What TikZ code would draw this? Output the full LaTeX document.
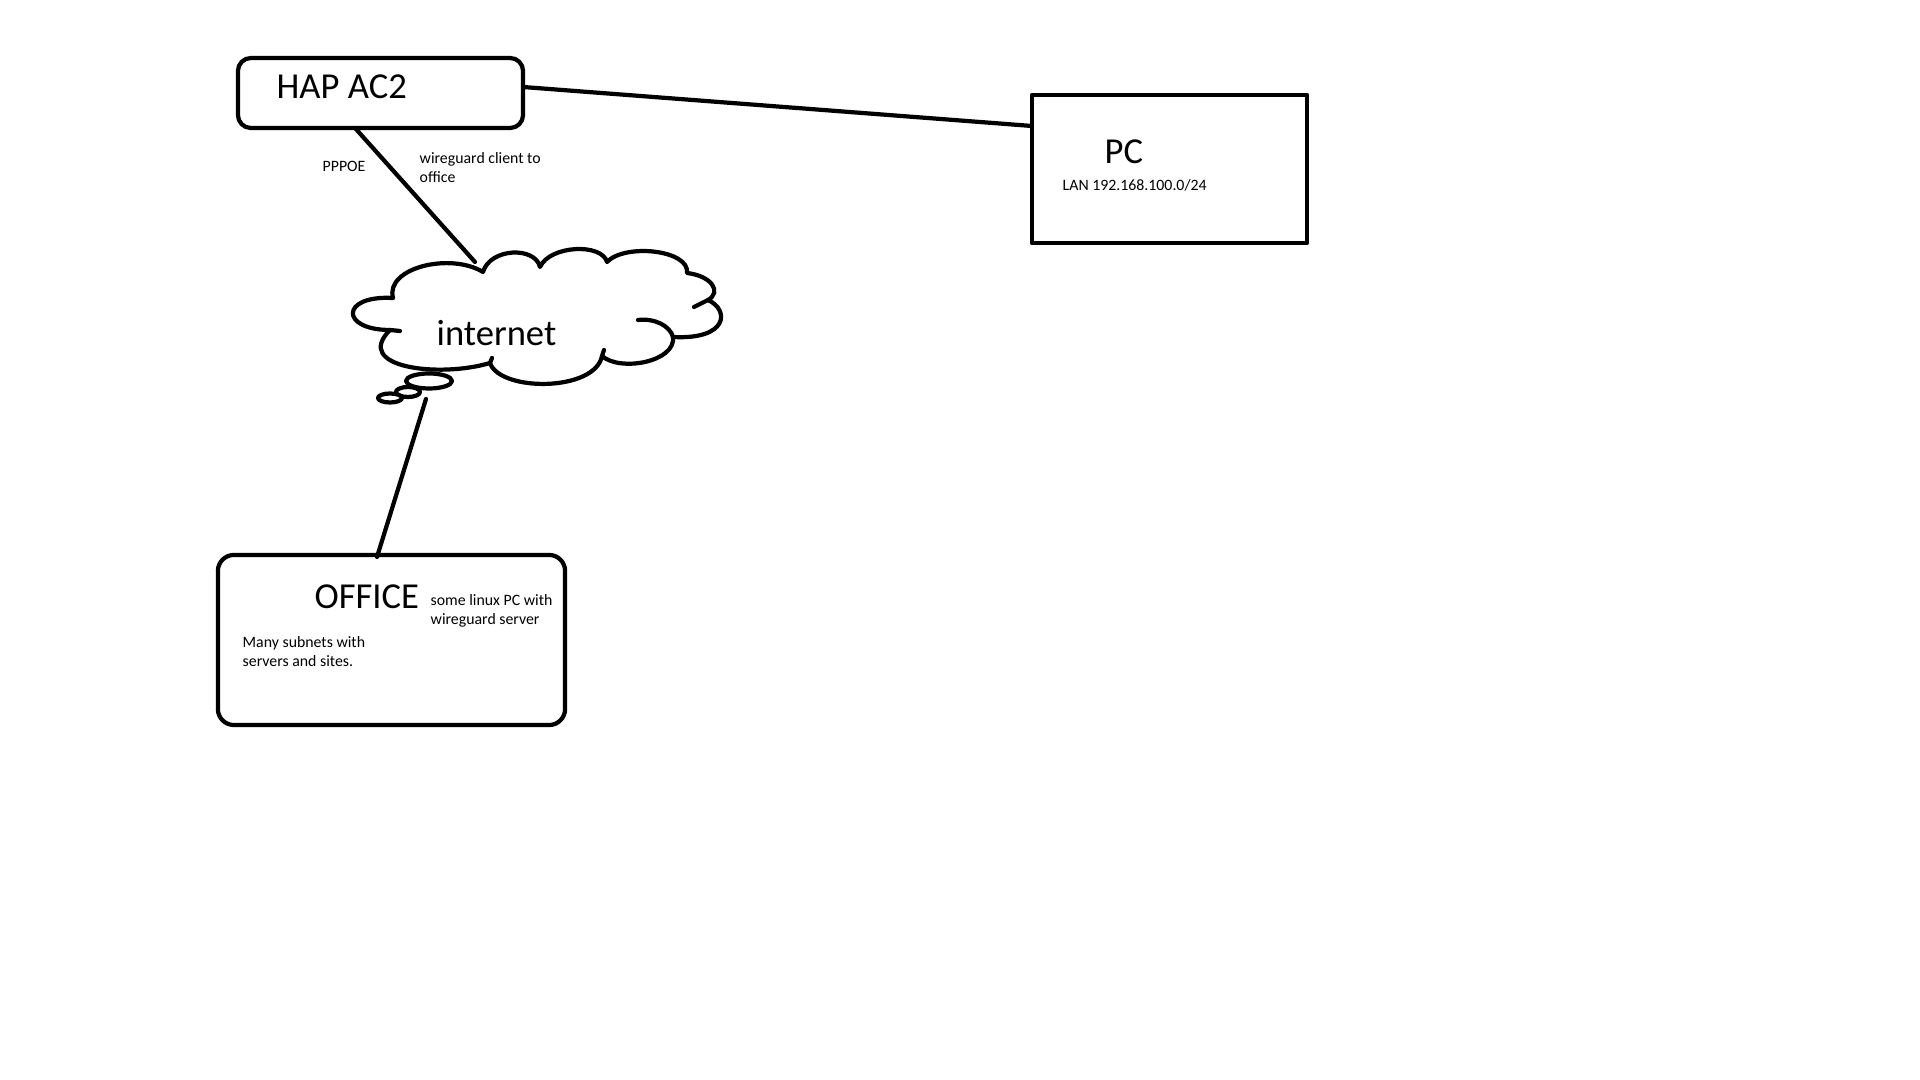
\documentclass[tikz,border=0pt]{standalone}
\usepackage{fontspec}
\setmainfont{Carlito}
\begin{document}
\begin{tikzpicture}[x=0.01cm,y=-0.01cm,
  ink/.style={line width=1.2pt,line cap=round,line join=round},
  bigtxt/.style={inner sep=0pt,anchor=base west,font=\fontsize{10.4}{12}\selectfont},
  smalltxt/.style={inner sep=0pt,anchor=base west,font=\fontsize{4.5}{5.4}\selectfont},
  boxshape/.style={ink,draw,inner sep=0pt}]
\useasboundingbox (0,0) rectangle (1920,1080);
\fill[white] (0,0) rectangle (1920,1080);
% boxes
\node[boxshape,rounded corners=0.13cm,minimum width=2.85cm,minimum height=0.70cm] (hap) at (380.5,93) {};
\node[boxshape,minimum width=2.75cm,minimum height=1.48cm] (pc) at (1169.5,169) {};
\node[boxshape,rounded corners=0.16cm,minimum width=3.47cm,minimum height=1.70cm] (office) at (391.5,640) {};
% texts
\node[bigtxt] (haptxt) at (276,99) {HAP AC2};
\node[bigtxt] (pctxt) at (1104,164) {PC};
\node[smalltxt] (lan) at (1062,191) {LAN 192.168.100.0/24};
\node[smalltxt] (pppoe) at (322,172) {PPPOE};
\node[smalltxt] (wg1) at (419,164) {wireguard client to};
\node[smalltxt] (wg2) at (419,183) {office};
\node[bigtxt] (inettxt) at (436,346) {internet};
\node[bigtxt] (offtxt) at (314,609) {OFFICE};
\node[smalltxt] (lin1) at (430,606) {some linux PC with};
\node[smalltxt] (lin2) at (430,625) {wireguard server};
\node[smalltxt] (many1) at (242,648) {Many subnets with};
\node[smalltxt] (many2) at (242,667) {servers and sites.};
% cloud
\draw[ink] (393,298) .. controls (385,268) and (450,252) .. (483,272)
  .. controls (490,248) and (535,246) .. (540,267)
  .. controls (550,245) and (602,243) .. (607,262)
  .. controls (625,243) and (690,250) .. (687,273)
  .. controls (712,276) and (722,292) .. (708,300)
  .. controls (730,310) and (728,340) .. (673,337)
  .. controls (676,362) and (620,372) .. (602,356)
  .. controls (595,392) and (500,392) .. (490,363)
  .. controls (440,378) and (352,368) .. (390,330)
  .. controls (340,330) and (340,295) .. (393,298);
\draw[ink] (390,330) -- (400,331);
\draw[ink] (708,300) -- (694,307);
\draw[ink] (638,320) .. controls (655,318) and (670,326) .. (673,337);
\draw[ink] (602,356) -- (604,350);
\draw[ink] (490,363) -- (492,358);
% bubbles
\draw[ink,fill=white] (429,381) ellipse [x radius=0.23cm, y radius=0.075cm];
\draw[ink,fill=white] (408,392) ellipse [x radius=0.12cm, y radius=0.05cm];
\draw[ink,fill=white] (390,398) ellipse [x radius=0.12cm, y radius=0.045cm];
% connectors
\coordinate (hapR) at (523,87);
\coordinate (pcL) at (1032,126);
\coordinate (hapB) at (355,128);
\coordinate (cloudT) at (475,262);
\coordinate (cloudB) at (426,399);
\coordinate (offT) at (377,557);
\draw[ink] (hapR) -- (pcL);
\draw[ink] (hapB) -- (cloudT);
\draw[ink] (cloudB) -- (offT);
\end{tikzpicture}
\end{document}
